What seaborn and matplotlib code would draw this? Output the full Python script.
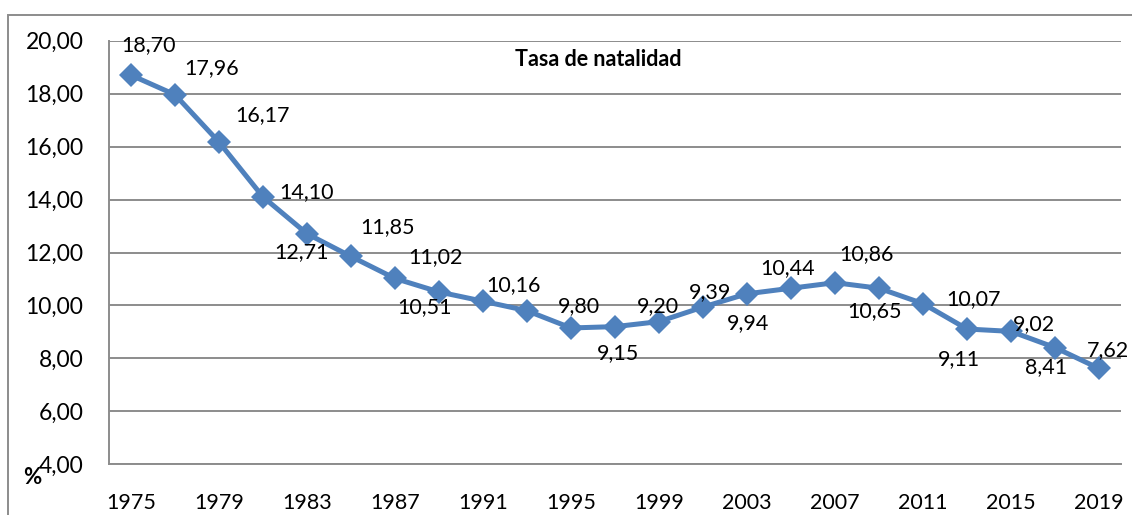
import matplotlib
matplotlib.use("Agg")
import matplotlib.pyplot as plt
from matplotlib.patches import Rectangle
from matplotlib.ticker import FixedLocator, FuncFormatter
import seaborn as sns
import pandas as pd

# ---- data ----
years = [1975, 1977, 1979, 1981, 1983, 1985, 1987, 1989, 1991, 1993, 1995, 1997,
         1999, 2001, 2003, 2005, 2007, 2009, 2011, 2013, 2015, 2017, 2019]
tasa = [18.70, 17.96, 16.17, 14.10, 12.71, 11.85, 11.02, 10.51, 10.16, 9.80, 9.15, 9.20,
        9.39, 9.94, 10.44, 10.65, 10.86, 10.65, 10.07, 9.11, 9.02, 8.41, 7.62]
tick_years = [1975, 1979, 1983, 1987, 1991, 1995, 1999, 2003, 2007, 2011, 2015, 2019]
title = "Tasa de natalidad"
y_unit = "%"

# ---- style: label offsets in pixels (dx right, dy up); None = no label ----
label_offsets_px = [(18, 30), (37, 27), (44, 27), (44, 5), (-5, -18), (37, 29), (40, 21),
                    (-14, -15), (30, 16), (52, 5), (47, -25), (43, 21), (51, 30), (45, -16),
                    (41, 26), None, (31, 29), (-4, -23), (51, 5), (-8, -30), (23, 7),
                    (-9, -20), (9, 18)]

W, H, DPI = 1132, 515, 100
BLUE = "#4F81BD"
GRID = "#8C8C8C"
FONT = "Lato"

sns.set_style("white")
plt.rcParams["font.family"] = [FONT, "DejaVu Sans"]

fig = plt.figure(figsize=(W / DPI, H / DPI), dpi=DPI)
ax_left, ax_right, ax_top, ax_bot = 109, 1121, 40.7, 464.3
ax = fig.add_axes([ax_left / W, 1 - ax_bot / H, (ax_right - ax_left) / W, (ax_bot - ax_top) / H])

df = pd.DataFrame({"year": years, "tasa": tasa})
sns.lineplot(data=df, x="year", y="tasa", ax=ax, color=BLUE, linewidth=3.6,
             marker="D", markersize=12, markeredgecolor=BLUE, markeredgewidth=0,
             zorder=3)

ax.set_xlim(years[0] - 1, years[-1] + 1)
ax.set_ylim(4, 20)
ax.set_yticks([4, 6, 8, 10, 12, 14, 16, 18, 20])
ax.yaxis.set_major_formatter(FuncFormatter(lambda v, p: f"{v:.2f}".replace(".", ",")))
ax.set_xticks(tick_years)
ax.set_xticklabels([str(y) for y in tick_years])
ax.xaxis.set_minor_locator(FixedLocator([y - 1 for y in years] + [years[-1] + 1]))
ax.tick_params(axis="x", which="major", length=0, pad=21, labelsize=15.5, labelcolor="black")
ax.tick_params(axis="x", which="minor", length=6.5, width=1.3, color=GRID, direction="out")
ax.tick_params(axis="y", which="major", length=6.5, width=1.3, color=GRID, direction="out",
               pad=12, labelsize=16.5, labelcolor="black")
ax.set_xlabel("")
ax.set_ylabel("")

ax.grid(axis="y", color=GRID, linewidth=1.4)
ax.grid(axis="x", visible=False)
ax.set_axisbelow(True)
for s in ["top", "right"]:
    ax.spines[s].set_visible(False)
for s in ["left", "bottom"]:
    ax.spines[s].set_color(GRID)
    ax.spines[s].set_linewidth(1.4)

# data labels
for yr, v, off in zip(years, tasa, label_offsets_px):
    if off is None:
        continue
    ax.annotate(f"{v:.2f}".replace(".", ","), xy=(yr, v),
                xytext=(off[0] * 72 / DPI, off[1] * 72 / DPI), textcoords="offset points",
                ha="center", va="center", fontsize=15.5, color="black", zorder=4)

# title inside plot
fig.text(598 / W, 1 - 60 / H, title, ha="center", va="center", fontsize=15.5,
         fontweight="bold", color="black")
# unit label
fig.text(32 / W, 1 - 478 / H, y_unit, ha="center", va="center", fontsize=16,
         fontweight="bold", color="black")

# chart area border
fig.add_artist(Rectangle((8 / W, -0.05), 1.2, 1 - 15 / H + 0.05, transform=fig.transFigure,
                         fill=False, edgecolor=GRID, linewidth=1.4))

fig.savefig("out.png", dpi=DPI)
